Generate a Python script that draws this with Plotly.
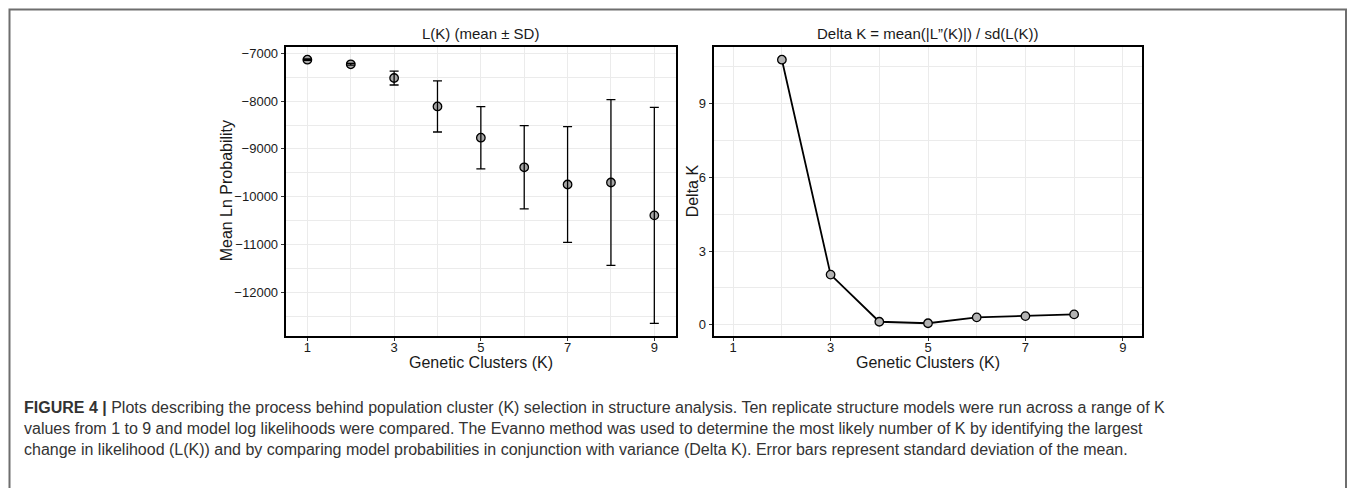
import plotly.graph_objects as go

# ---- data ----
k_left = [1, 2, 3, 4, 5, 6, 7, 8, 9]
lk_mean = [-7134, -7230, -7517, -8112, -8766, -9385, -9745, -9703, -10390]
lk_sd = [15, 18, 146, 534, 652, 870, 1210, 1735, 2260]

k_right = [2, 3, 4, 5, 6, 7, 8]
delta_k = [10.79, 2.04, 0.12, 0.06, 0.30, 0.35, 0.42]

x_ticks = [1, 3, 5, 7, 9]
left_y_ticks = [-7000, -8000, -9000, -10000, -11000, -12000]
left_y_ticktext = ["\u22127000", "\u22128000", "\u22129000", "\u221210000", "\u221211000", "\u221212000"]
right_y_ticks = [0, 3, 6, 9]

title_left = "L(K) (mean \u00b1 SD)"
title_right = "Delta K = mean(|L\u201d(K)|) / sd(L(K))"
xlabel = "Genetic Clusters (K)"
ylabel_left = "Mean Ln Probability"
ylabel_right = "Delta K"
caption = ("<b>FIGURE 4 |</b> Plots describing the process behind population cluster (K) selection in structure analysis. "
           "Ten replicate structure models were run across a range of K<br>"
           "values from 1 to 9 and model log likelihoods were compared. The Evanno method was used to determine the most "
           "likely number of K by identifying the largest<br>"
           "change in likelihood (L(K)) and by comparing model probabilities in conjunction with variance (Delta K). "
           "Error bars represent standard deviation of the mean.")

# ---- geometry (page pixel coords; page body has an 8px margin) ----
OFF = 8
W, H = 1357 - OFF, 488 - OFF
def px(x):
    return (x - OFF) / W
def py(y):
    return 1 - (y - OFF) / H

L_x0, L_x1 = 285.7, 676.0
R_x0, R_x1 = 713.7, 1142.3
P_y0, P_y1 = 46.7, 336.0

FONT = "Liberation Sans, Arial, sans-serif"
GRID = "#ebebeb"

fig = go.Figure()

# left: points then error bars on top
fig.add_trace(go.Scatter(
    x=k_left, y=lk_mean, mode="markers",
    marker=dict(size=8.5, color="#a6a6a6", line=dict(color="black", width=1.3)),
    xaxis="x", yaxis="y", showlegend=False, hoverinfo="skip"))
fig.add_trace(go.Scatter(
    x=k_left, y=lk_mean, mode="markers",
    marker=dict(size=8, color="rgba(0,0,0,0)"),
    error_y=dict(type="data", array=lk_sd, visible=True, color="black", thickness=1.3, width=4.5),
    xaxis="x", yaxis="y", showlegend=False, hoverinfo="skip"))

# right: line + points
fig.add_trace(go.Scatter(
    x=k_right, y=delta_k, mode="lines+markers",
    line=dict(color="black", width=1.8),
    marker=dict(size=8.5, color="#b3b3b3", line=dict(color="black", width=1.3)),
    xaxis="x2", yaxis="y2", showlegend=False, hoverinfo="skip"))

axis_common = dict(
    showline=True, linecolor="black", linewidth=2, mirror=True,
    ticks="outside", ticklen=3, tickcolor="#333333", tickwidth=1,
    gridcolor=GRID, gridwidth=1.2, zeroline=False,
    tickfont=dict(family=FONT, size=13, color="#1a1a1a"),
)

fig.update_layout(
    width=W, height=H,
    margin=dict(l=0, r=0, t=0, b=0),
    paper_bgcolor="white", plot_bgcolor="white",
    xaxis=dict(domain=[px(L_x0), px(L_x1)], range=[0.5, 9.5], tickvals=x_ticks, anchor="y",
               ticklabelstandoff=-5,
               minor=dict(tickvals=[2, 4, 6, 8], showgrid=True, gridcolor=GRID, gridwidth=1, ticklen=0),
               **axis_common),
    yaxis=dict(domain=[py(P_y1), py(P_y0)], range=[-12914, -6862], tickvals=left_y_ticks,
               ticktext=left_y_ticktext, anchor="x",
               minor=dict(tickvals=[-7500, -8500, -9500, -10500, -11500, -12500], showgrid=True,
                          gridcolor=GRID, gridwidth=1, ticklen=0),
               **axis_common),
    xaxis2=dict(domain=[px(R_x0), px(R_x1)], range=[0.6, 9.4], tickvals=x_ticks, anchor="y2",
                ticklabelstandoff=-5,
                minor=dict(tickvals=[2, 4, 6, 8], showgrid=True, gridcolor=GRID, gridwidth=1, ticklen=0),
                **axis_common),
    yaxis2=dict(domain=[py(P_y1), py(P_y0)], range=[-0.46, 11.32], tickvals=right_y_ticks, anchor="x2",
                minor=dict(tickvals=[1.5, 4.5, 7.5, 10.5], showgrid=True, gridcolor=GRID, gridwidth=1, ticklen=0),
                **axis_common),
)

ann = []
def text(x, y, s, size, angle=0, color="#1a1a1a"):
    ann.append(dict(x=px(x), y=py(y), xref="paper", yref="paper", text=s, showarrow=False,
                    textangle=angle, xanchor="center", yanchor="middle",
                    font=dict(family=FONT, size=size, color=color)))

text((L_x0 + L_x1) / 2, 33, title_left, 15)
text((R_x0 + R_x1) / 2, 33, title_right, 15)
text((L_x0 + L_x1) / 2, 362, xlabel, 16)
text((R_x0 + R_x1) / 2, 362, xlabel, 16)
text(226, (P_y0 + P_y1) / 2, ylabel_left, 16, angle=-90)
text(692, (P_y0 + P_y1) / 2, ylabel_right, 16, angle=-90)

ann.append(dict(x=px(22), y=py(428), xref="paper", yref="paper", text=caption, showarrow=False,
                xanchor="left", yanchor="middle", align="left",
                font=dict(family=FONT, size=16, color="#333333")))
fig.update_layout(annotations=ann)

# outer frame (open at bottom)
fig.add_shape(type="path",
              path=f"M {px(9.5)} 0 L {px(9.5)} {py(9.5)} L {px(1346)} {py(9.5)} L {px(1346)} 0",
              xref="paper", yref="paper", line=dict(color="#6e6e6e", width=2))

fig.write_html("out.html")
